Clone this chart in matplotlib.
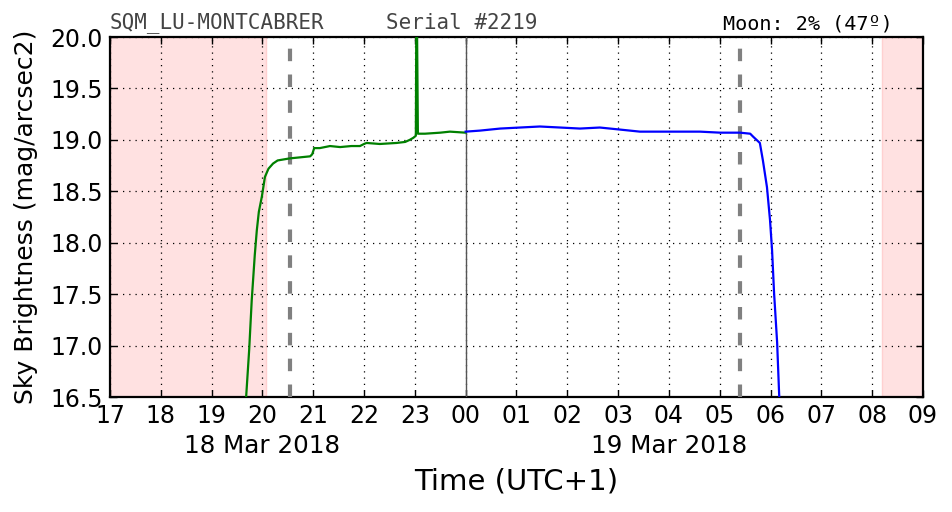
import matplotlib
matplotlib.use("Agg")
import matplotlib.pyplot as plt

# Data (hours since 00:00 on 18 Mar 2018; >24 means next day)
green_t = [19.64, 19.68, 19.74, 19.79, 19.85, 19.89, 19.93, 19.99, 20.05, 20.12, 20.21, 20.30,
           20.54, 20.74, 20.94, 20.98, 21.02, 21.13, 21.33, 21.53, 21.75, 21.92, 22.00, 22.05,
           22.31, 22.64, 22.81, 22.90, 22.97, 23.02, 23.03, 23.04, 23.06, 23.20, 23.50, 23.69, 24.00]
green_m = [16.20, 16.50, 16.96, 17.44, 17.88, 18.12, 18.30, 18.45, 18.64, 18.72, 18.77, 18.80,
           18.82, 18.83, 18.84, 18.86, 18.92, 18.92, 18.94, 18.93, 18.94, 18.94, 18.96, 18.97,
           18.96, 18.97, 18.98, 19.00, 19.02, 19.04, 20.30, 20.30, 19.06, 19.06, 19.07, 19.08, 19.07]

blue_t = [24.00, 24.28, 24.68, 25.07, 25.46, 25.86, 26.25, 26.64, 27.04, 27.43, 28.02, 28.61,
          29.01, 29.40, 29.60, 29.66, 29.79, 29.85, 29.93, 29.99, 30.03, 30.07, 30.13, 30.17, 30.20]
blue_m = [19.08, 19.09, 19.11, 19.12, 19.13, 19.12, 19.11, 19.12, 19.10, 19.08, 19.08, 19.08,
          19.07, 19.07, 19.06, 19.03, 18.97, 18.80, 18.54, 18.22, 17.93, 17.51, 17.03, 16.52, 16.30]

night_shade = [(17.0, 20.07), (32.2, 33.0)]
twilight_lines = [20.54, 29.40]
midnight = 24.0

hour_ticks = list(range(17, 34))
hour_labels = ["%02d" % (h % 24) for h in hour_ticks]
y_ticks = [16.5, 17.0, 17.5, 18.0, 18.5, 19.0, 19.5, 20.0]
date_labels = [(20.0, "18 Mar 2018"), (28.0, "19 Mar 2018")]

fig = plt.figure(figsize=(9.52, 5.12), dpi=100)
ax = fig.add_axes([0.1155, 0.2246, 0.9695 - 0.1155, 0.9277 - 0.2246])

for a, b in night_shade:
    ax.axvspan(a, b, facecolor="#ffe1e1", edgecolor="#ffd0d0", linewidth=1.0, zorder=0)

ax.grid(True, color="black", linestyle=(0, (1, 4)), linewidth=0.9, zorder=1)

for x in twilight_lines:
    ax.axvline(x, color="gray", linewidth=3, dashes=(3, 3.2), zorder=3)
ax.axvline(midnight, color="#555555", linewidth=1.0, zorder=3)

ax.plot(green_t, green_m, color="green", linewidth=1.6, zorder=4)
ax.plot(blue_t, blue_m, color="blue", linewidth=1.6, zorder=4)

ax.set_xlim(17, 33)
ax.set_ylim(16.5, 20.0)
ax.set_xticks(hour_ticks)
ax.set_xticklabels(hour_labels, fontsize=17)
ax.set_yticks(y_ticks)
ax.set_yticklabels(["%.1f" % v for v in y_ticks], fontsize=17)
ax.tick_params(direction="in", length=5, width=1, top=True, right=True, pad=5)
for s in ax.spines.values():
    s.set_linewidth(1.6)

ax.set_ylabel("Sky Brightness (mag/arcsec2)", fontsize=18)
ax.yaxis.set_label_coords(-0.089, 0.5)

for x, lab in date_labels:
    ax.text(x, -0.135, lab, transform=ax.get_xaxis_transform(), ha="center", va="center",
            fontsize=17.7)
ax.text(0.5, -0.235, "Time (UTC+1)", transform=ax.transAxes, ha="center", va="center",
        fontsize=21)

ax.text(0.0, 1.01, "SQM_LU-MONTCABRER", transform=ax.transAxes, ha="left", va="bottom",
        fontsize=15, family="DejaVu Sans Mono", color="#444444")
ax.text(0.339, 1.01, "Serial #2219", transform=ax.transAxes, ha="left", va="bottom",
        fontsize=15, family="DejaVu Sans Mono", color="#444444")
ax.text(0.963, 1.01, "Moon: 2% (47º)", transform=ax.transAxes, ha="right", va="bottom",
        fontsize=14.5, family="DejaVu Sans Mono", color="black")

fig.savefig("out.png", dpi=100)
